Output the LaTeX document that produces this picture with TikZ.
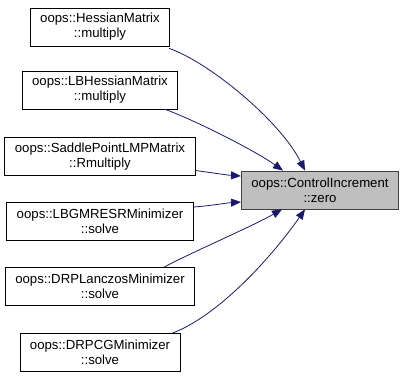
\documentclass[tikz,border=0pt]{standalone}
\usepackage{fontspec}
\setmainfont{Liberation Sans}
\usepackage{tikz}
\usetikzlibrary{arrows.meta, positioning}
\definecolor{EdgeBlue}{HTML}{191970}
\definecolor{FocusGray}{HTML}{BFBFBF}
\definecolor{FocusBorder}{HTML}{404040}

\begin{document}
\begin{tikzpicture}[
  x=1pt, y=-1pt,
  caller/.style={rectangle, draw=black, fill=white, line width=0.8pt, align=center,
    font=\fontsize{13.2}{15}\selectfont, inner xsep=10pt, minimum height=38pt},
  focus/.style={caller, fill=FocusGray, draw=FocusBorder},
  line/.style={-{Triangle[length=10pt, width=8pt]}, line width=0.8pt, color=EdgeBlue}
]
\useasboundingbox (0,0) rectangle (403,379);

\node[focus]  (ciz)   at (320,190)   {oops::ControlIncrement\\::zero};
\node[caller] (hm)    at (100,27)    {oops::HessianMatrix\\::multiply};
\node[caller] (lbhm)  at (100,90)    {oops::LBHessianMatrix\\::multiply};
\node[caller] (splmp) at (100,156.5) {oops::SaddlePointLMPMatrix\\::Rmultiply};
\node[caller] (lbgm)  at (100,221)   {oops::LBGMRESRMinimizer\\::solve};
\node[caller] (drpl)  at (100,286.5) {oops::DRPLanczosMinimizer\\::solve};
\node[caller] (drpcg) at (100,352.5) {oops::DRPCGMinimizer\\::solve};

% callers -> zero
\draw[line] ([xshift=-1pt,yshift=-2pt]hm.south east) .. controls +(40,14) and +(-25,-50) .. ([xshift=-15pt]ciz.north);
\draw[line] ([xshift=-13pt]lbhm.south east) .. controls +(30,11) and +(-28,-20) .. ([xshift=-37pt]ciz.north);
\draw[line] ([yshift=-14pt]splmp.east) .. controls +(15,2) and +(-15,-1) .. ([yshift=14pt]ciz.west);
\draw[line] ([yshift=14pt]lbgm.east) .. controls +(15,-1) and +(-15,1) .. ([yshift=-12pt]ciz.west);
\draw[line] ([xshift=-31pt]drpl.north east) .. controls +(28,-15) and +(-32,18) .. ([xshift=-38pt]ciz.south);
\draw[line] ([xshift=-8pt]drpcg.north east) .. controls +(45,-17) and +(-35,50) .. ([xshift=-15pt]ciz.south);
\end{tikzpicture}
\end{document}
